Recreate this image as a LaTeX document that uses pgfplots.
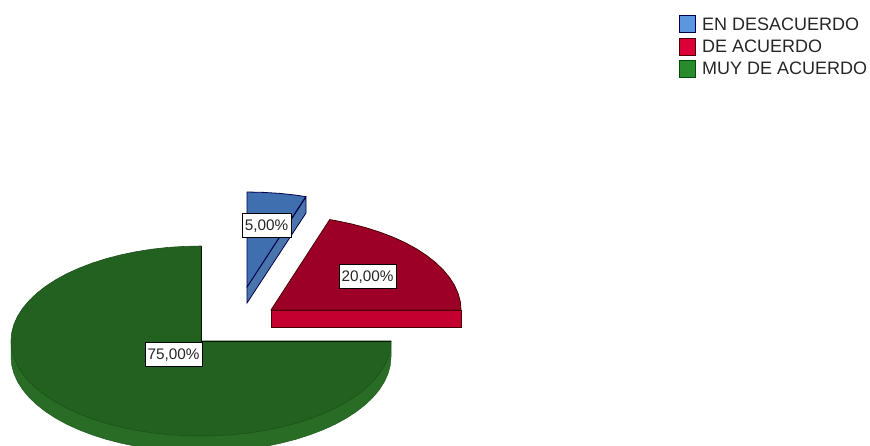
\documentclass[border=0pt]{standalone}
\usepackage{pgfplots}
\pgfplotsset{compat=1.18}
\usepackage{fontspec}
\setmainfont{Liberation Sans}

\definecolor{bluetop}{HTML}{3F6FAE}
\definecolor{blueside}{HTML}{4A74AC}
\definecolor{bluekey}{HTML}{5B97E0}
\definecolor{redtop}{HTML}{9C0026}
\definecolor{redside}{HTML}{C40030}
\definecolor{redkey}{HTML}{DC0038}
\definecolor{greentop}{HTML}{22611F}
\definecolor{greenside}{HTML}{286C25}
\definecolor{greenkey}{HTML}{2A8A2E}

\begin{document}
\begin{tikzpicture}
\useasboundingbox (0,0) rectangle (870pt,446pt);
\begin{axis}[
	width=870pt, height=446pt,
	scale only axis,
	xmin=0, xmax=870,
	ymin=0, ymax=446,
	y dir=reverse,
	hide axis,
	clip=true,
	legend style={
		at={(axis cs:679,15)}, anchor=north west,
		draw=none, fill=none,
		font=\fontsize{18}{20}\selectfont\color{black!85},
		row sep=3.8pt,
		inner sep=0pt,
		/tikz/every odd column/.append style={column sep=4pt},
	},
	legend cell align=left,
	legend image code/.code={
		\draw[#1,line width=1pt] (0pt,-8pt) rectangle (16pt,9pt);
	},
]
% legend keys
\addlegendimage{fill=bluekey,draw=black!70!blue}
\addlegendimage{fill=redkey,draw=black!70!red}
\addlegendimage{fill=greenkey,draw=black!70!green}

% green slice, side
\addplot[fill=greenside,draw=black!15!greenside,line width=0.5pt,forget plot] coordinates {
	(11,341) (11,357) (11.7,365.3) (13.9,373.5) (17.5,381.6) (22.5,389.5) (28.8,397.1)
	(36.5,404.5) (45.4,411.5) (55.5,418.1) (66.6,424.2) (78.9,429.8) (92,434.8)
	(106,439.3) (120.7,443.1) (136,446.3) (151.8,448.8) (168,450.6) (184.4,451.6)
	(201,452) (217.6,451.6) (234,450.6) (250.2,448.8) (266,446.3) (281.3,443.1)
	(296,439.3) (310,434.8) (323.1,429.8) (335.4,424.2) (346.5,418.1) (356.6,411.5)
	(365.5,404.5) (373.2,397.1) (379.5,389.5) (384.5,381.6) (388.1,373.5) (390.3,365.3)
	(391,357) (391,341)
} -- cycle;
% green slice, top
\addplot[fill=greentop,draw=black!15!greentop,line width=0.6pt,forget plot] coordinates {
	(201,341) (201,246) (184.4,246.4) (168,247.4) (151.8,249.2) (136,251.7) (120.7,254.9)
	(106,258.7) (92,263.2) (78.9,268.2) (66.6,273.8) (55.5,279.9) (45.4,286.5) (36.5,293.5)
	(28.8,300.9) (22.5,308.5) (17.5,316.4) (13.9,324.5) (11.7,332.7) (11,341)
	(11.7,349.3) (13.9,357.5) (17.5,365.6) (22.5,373.5) (28.8,381.1) (36.5,388.5)
	(45.4,395.5) (55.5,402.1) (66.6,408.2) (78.9,413.8) (92,418.8) (106,423.3) (120.7,427.1)
	(136,430.3) (151.8,432.8) (168,434.6) (184.4,435.6) (201,436)
	(217.6,435.6) (234,434.6) (250.2,432.8) (266,430.3) (281.3,427.1) (296,423.3) (310,418.8)
	(323.1,413.8) (335.4,408.2) (346.5,402.1) (356.6,395.5) (365.5,388.5) (373.2,381.1)
	(379.5,373.5) (384.5,365.6) (388.1,357.5) (390.3,349.3) (391,341)
} -- cycle;
% green slice, cut edges
\addplot[draw=black!80!greentop,line width=0.9pt,forget plot] coordinates {
	(201,246) (201,341) (391,341)
};

% red slice, side
\addplot[fill=redside,draw=black!70!red,line width=0.8pt,forget plot] coordinates {
	(271,310) (461,310) (461,327) (271,327)
} -- cycle;
% red slice, top
\addplot[fill=redtop,draw=black!70!red,line width=0.8pt,forget plot] coordinates {
	(271,310) (461,310) (460.3,301.7) (458.1,293.5) (454.5,285.4) (449.5,277.5) (443.2,269.9)
	(435.5,262.5) (426.6,255.5) (416.5,248.9) (405.4,242.8) (393.1,237.2) (380,232.2)
	(366,227.7) (351.3,223.9) (336,220.7) (329.7,219.6)
} -- cycle;

% blue slice, side
\addplot[fill=blueside,draw=black!70!blue,line width=0.8pt,forget plot] coordinates {
	(247,287) (306,197) (306,213) (247,303)
} -- cycle;
% blue slice, top
\addplot[fill=bluetop,draw=black!70!blue,line width=0.8pt,forget plot] coordinates {
	(247,287) (247,192) (263.6,192.4) (280,193.4) (296.2,195.2) (305.7,196.6)
} -- cycle;

\legend{EN DESACUERDO,DE ACUERDO,MUY DE ACUERDO}

\tikzset{lab/.style={fill=white,draw=black,line width=0.7pt,text=black!85,font=\fontsize{15.3}{17}\selectfont,inner sep=0pt,minimum height=24pt,text depth=0pt}}
\node[lab,minimum width=49pt] at (axis cs:266.5,225) {5,00\%};
\node[lab,minimum width=57pt] at (axis cs:367.5,276) {20,00\%};
\node[lab,minimum width=57pt] at (axis cs:173.5,354) {75,00\%};
\end{axis}
\end{tikzpicture}
\end{document}
